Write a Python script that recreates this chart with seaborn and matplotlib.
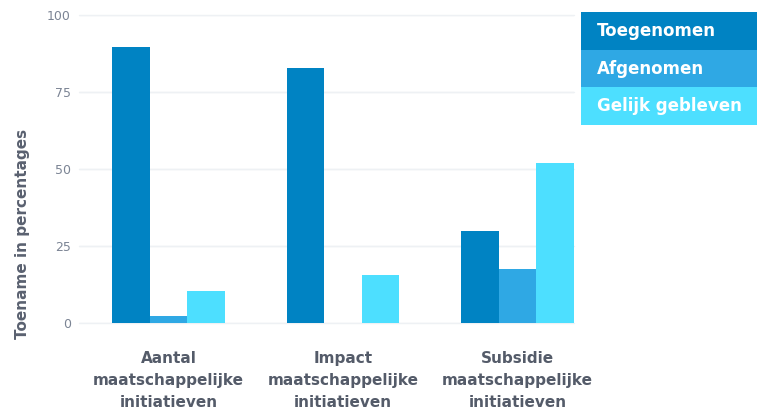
import matplotlib
matplotlib.use("Agg")
import matplotlib.pyplot as plt
from matplotlib.patches import Rectangle
import seaborn as sns
import pandas as pd

categories = [
    "Aantal\nmaatschappelijke\ninitiatieven",
    "Impact\nmaatschappelijke\ninitiatieven",
    "Subsidie\nmaatschappelijke\ninitiatieven",
]
series = ["Toegenomen", "Afgenomen", "Gelijk gebleven"]
toegenomen = [89.5, 82.8, 29.9]
afgenomen = [2.5, 0.0, 17.5]
gelijk_gebleven = [10.4, 15.6, 52.0]
colors = ["#0083C3", "#2FA8E4", "#4DDFFF"]
y_ticks = [0, 25, 50, 75, 100]

df = pd.DataFrame({
    "categorie": categories * 3,
    "reeks": [s for s in series for _ in categories],
    "waarde": toegenomen + afgenomen + gelijk_gebleven,
})

sns.set_theme(style="white")
plt.rcParams["font.family"] = ["DejaVu Sans"]

W, H = 757, 409
fig = plt.figure(figsize=(W / 100, H / 100), dpi=100)
ax_left, ax_right, ax_top, ax_bottom = 79, 574, 15, 323.3
ax = fig.add_axes([ax_left / W, 1 - ax_bottom / H,
                   (ax_right - ax_left) / W, (ax_bottom - ax_top) / H])

sns.barplot(data=df, x="categorie", y="waarde", hue="reeks",
            hue_order=series, palette=colors, width=0.647, gap=0,
            saturation=1, linewidth=0, legend=False, ax=ax)

ax.set_xlim(-0.514, 2.324)
ax.set_ylim(0, 100)
ax.set_yticks(y_ticks)
ax.yaxis.grid(True, color="#eef1f4", linewidth=1)
for yv in y_ticks:
    ax.axhline(yv, color="#eef1f4", linewidth=1, zorder=0, clip_on=False)
ax.set_axisbelow(True)
for s in ax.spines.values():
    s.set_visible(False)
ax.tick_params(axis="both", length=0)
ax.tick_params(axis="y", labelsize=9, labelcolor="#7b8494", pad=6)
ax.tick_params(axis="x", pad=20)
ax.set_xlabel("")
for lbl in ax.get_xticklabels():
    lbl.set_fontsize(11)
    lbl.set_fontweight("bold")
    lbl.set_color("#545b69")
    lbl.set_linespacing(1.6)
ax.set_ylabel("Toename in percentages", fontsize=11, fontweight="bold",
              color="#5a6170")
ax.yaxis.set_label_coords((30 - ax_left) / (ax_right - ax_left),
                          (ax_bottom - 234) / (ax_bottom - ax_top))

# Legend block with a filled row per series
row_top, row_h, box_x = 12, 37.7, 581
for i, (name, col) in enumerate(zip(series, colors)):
    y0 = row_top + i * row_h
    fig.patches.append(Rectangle((box_x / W, 1 - (y0 + row_h) / H),
                                 (W - box_x) / W, row_h / H,
                                 transform=fig.transFigure,
                                 facecolor=col, edgecolor="none"))
    fig.text(597 / W, 1 - (y0 + row_h / 2) / H, name, color="white",
             fontsize=12, fontweight="bold", va="center", ha="left")

fig.savefig("out.png", dpi=100)
